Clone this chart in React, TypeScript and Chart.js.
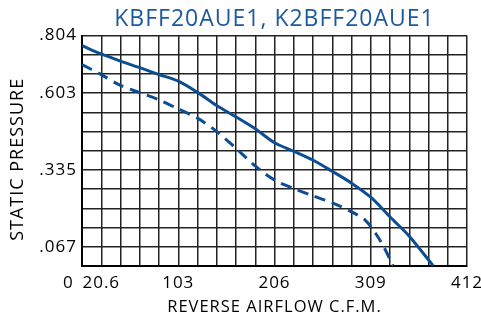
import React, { useEffect, useRef } from "react";
import { Chart, registerables } from "chart.js";

Chart.register(...registerables);

const TITLE = "KBFF20AUE1, K2BFF20AUE1";
const X_TITLE = "REVERSE AIRFLOW C.F.M.";
const Y_TITLE = "STATIC PRESSURE";

const X_MAX = 412;
const X_STEP = 20.6;
const Y_MAX = 0.804;
const Y_STEP = 0.067;
const X_TICK_LABELS = [0, 20.6, 103, 206, 309, 412];
const Y_TICK_LABELS = [0.067, 0.335, 0.603, 0.804];

const solidX = [0, 20.6, 41.2, 61.8, 82.4, 103, 124, 144, 165, 185, 206, 227, 247, 268, 288, 309, 330, 350, 376];
const solidY = [0.769, 0.74, 0.715, 0.692, 0.668, 0.645, 0.605, 0.56, 0.52, 0.48, 0.43, 0.4, 0.37, 0.33, 0.29, 0.24, 0.17, 0.105, 0];

const dashedX = [0, 20.6, 41.2, 61.8, 82.4, 103, 124, 144, 165, 185, 206, 227, 247, 268, 288, 303, 315, 324, 333];
const dashedY = [0.703, 0.668, 0.63, 0.605, 0.58, 0.548, 0.515, 0.47, 0.41, 0.35, 0.3, 0.27, 0.245, 0.22, 0.19, 0.16, 0.11, 0.06, 0];

const BLUE = "#0d4e92";
const FONT = "'Open Sans', 'DejaVu Sans', sans-serif";

function fmtX(v: number): string {
  if (Math.abs(v) < 1e-6) return "0     ";
  const m = X_TICK_LABELS.find((t) => Math.abs(t - v) < 1e-3);
  if (m === undefined) return "";
  return String(m);
}
function fmtY(v: number): string {
  const m = Y_TICK_LABELS.find((t) => Math.abs(t - v) < 1e-4);
  if (m === undefined) return "";
  return m.toFixed(3).replace(/^0/, "");
}

const spacingPlugin = {
  id: "letterSpacing",
  beforeLayout(chart: any) {
    chart.ctx.letterSpacing = "1px";
  },
  beforeDraw(chart: any) {
    chart.ctx.letterSpacing = "1px";
  },
};

export default function App() {
  const ref = useRef<HTMLCanvasElement>(null);
  useEffect(() => {
    if (!ref.current) return;
    const chart = new Chart(ref.current, {
      type: "line",
      plugins: [spacingPlugin],
      data: {
        datasets: [
          {
            data: solidX.map((x, i) => ({ x, y: solidY[i] })),
            borderColor: BLUE,
            borderWidth: 3,
            pointRadius: 0,
            tension: 0.3,
            fill: false,
          },
          {
            data: dashedX.map((x, i) => ({ x, y: dashedY[i] })),
            borderColor: BLUE,
            borderWidth: 3,
            borderDash: [11, 7],
            pointRadius: 0,
            tension: 0.3,
            fill: false,
          },
        ],
      },
      options: {
        animation: false,
        responsive: false,
        maintainAspectRatio: false,
        layout: { padding: { left: 0, right: 14, top: 0, bottom: 0 } },
        plugins: {
          legend: { display: false },
          tooltip: { enabled: false },
          title: {
            display: true,
            text: TITLE,
            color: "#1c5a9c",
            fullSize: false,
            font: { family: FONT, size: 23, weight: "normal", lineHeight: 1.2 },
            padding: { top: 6, bottom: 2 },
          },
        },
        scales: {
          x: {
            type: "linear",
            min: 0,
            max: X_MAX,
            afterBuildTicks: (s: any) => {
              const t = [];
              for (let i = 0; i <= 20; i++) t.push({ value: +(i * X_STEP).toFixed(2) });
              s.ticks = t;
            },
            afterFit: (s: any) => {
              s.height = 51;
              s.paddingLeft = 0;
              s.paddingRight = 0;
            },
            ticks: {
              autoSkip: false,
              maxRotation: 0,
              color: "#000",
              padding: 7,
              font: { family: FONT, size: 17 },
              callback: (v: any) => fmtX(Number(v)),
            },
            grid: { color: "#222", lineWidth: 1.5, drawTicks: false },
            border: { color: "#000", width: 2 },
            title: {
              display: true,
              text: X_TITLE,
              color: "#000",
              font: { family: FONT, size: 16.5 },
              padding: { top: 0, bottom: 0 },
            },
          },
          y: {
            type: "linear",
            min: 0,
            max: Y_MAX,
            afterBuildTicks: (s: any) => {
              const t = [];
              for (let i = 0; i <= 12; i++) t.push({ value: +(i * Y_STEP).toFixed(3) });
              s.ticks = t;
            },
            afterFit: (s: any) => {
              s.width = 82;
              s.paddingTop = 0;
              s.paddingBottom = 0;
            },
            ticks: {
              autoSkip: false,
              color: "#000",
              padding: 5,
              font: { family: FONT, size: 17 },
              callback: (v: any) => fmtY(Number(v)),
            },
            grid: { color: "#222", lineWidth: 1.5, drawTicks: false },
            border: { color: "#000", width: 2 },
            title: {
              display: true,
              text: Y_TITLE + "   ",
              color: "#000",
              font: { family: FONT, size: 18 },
              padding: { top: 7, bottom: 0 },
            },
          },
        },
      },
    });
    return () => chart.destroy();
  }, []);
  return (
    <div style={{ position: "fixed", left: 0, top: 0, width: 481, height: 317, background: "#fff" }}>
      <canvas ref={ref} width={481} height={317} style={{ width: 481, height: 317 }} />
    </div>
  );
}
